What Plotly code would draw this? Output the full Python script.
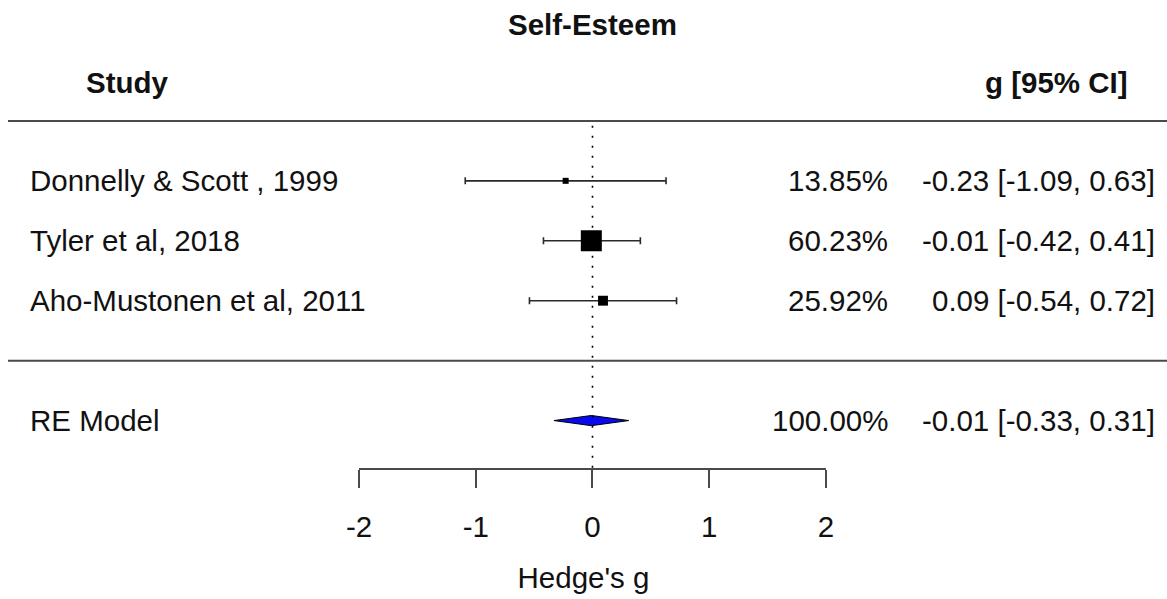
import plotly.graph_objects as go

# ---- data ----
studies = ["Donnelly & Scott , 1999", "Tyler et al, 2018", "Aho-Mustonen et al, 2011"]
estimates = [-0.23, -0.01, 0.09]
ci_lower = [-1.09, -0.42, -0.54]
ci_upper = [0.63, 0.41, 0.72]
weights = [13.85, 60.23, 25.92]
rows = [3, 2, 1]

re_label = "RE Model"
re_est = -0.01
re_lower = -0.33
re_upper = 0.31
re_weight = 100.00
re_row = -1

tick_vals = [-2, -1, 0, 1, 2]
tick_text = ["-2", "-1", "0", "1", "2"]
title_text = "Self-Esteem"
col_study = "Study"
col_est = "g [95% CI]"
x_title = "Hedge's g"

# ---- layout constants ----
W, H = 1167, 599
FONT = "Liberation Sans, Arial, Helvetica, sans-serif"
FS = 29.5
XR = [-5.075, 4.921]
YR = [-1.808, 6.017]
LINE_C = "#4a4a4a"

wmin, wmax = min(weights), max(weights)
sizes = [6 + (w - wmin) / (wmax - wmin) * 15 for w in weights]

fig = go.Figure()

# study estimates with CIs
fig.add_trace(go.Scatter(
    x=estimates, y=rows, mode="markers",
    marker=dict(symbol="square", size=sizes, color="black", opacity=1, line=dict(width=0)),
    error_x=dict(type="data", symmetric=False,
                 array=[u - e for u, e in zip(ci_upper, estimates)],
                 arrayminus=[e - l for e, l in zip(estimates, ci_lower)],
                 thickness=1.6, width=3.5, color="#2a2a2a"),
    hoverinfo="skip", showlegend=False,
))

# summary diamond
dh = 0.085
fig.add_trace(go.Scatter(
    x=[re_lower, re_est, re_upper, re_est, re_lower],
    y=[re_row, re_row + dh, re_row, re_row - dh, re_row],
    mode="lines", fill="toself", fillcolor="#0a0aee",
    line=dict(color="black", width=1), hoverinfo="skip", showlegend=False,
))

shapes = []
# horizontal rules
for yy in [4, 0]:
    shapes.append(dict(type="line", xref="paper", yref="y", x0=8 / W, x1=1, y0=yy, y1=yy,
                       line=dict(color=LINE_C, width=2)))
# reference dotted line at 0
shapes.append(dict(type="line", xref="x", yref="y", x0=0, x1=0, y0=3.92, y1=YR[0],
                   line=dict(color="black", width=1.6, dash="2px,8px")))
# x-axis line from first to last tick
shapes.append(dict(type="line", xref="x", yref="paper", x0=tick_vals[0], x1=tick_vals[-1],
                   y0=0, y1=0, line=dict(color=LINE_C, width=2)))

annotations = []
def txt(x, y, s, anchor, bold=False, xref="paper", yref="y"):
    annotations.append(dict(
        x=x, y=y, xref=xref, yref=yref, text=f"<b>{s}</b>" if bold else s,
        showarrow=False, xanchor=anchor, yanchor="middle",
        font=dict(family=FONT, size=FS, color="#111")))

txt(592.5 / W, 5.6, title_text, "center", bold=True)
txt(84 / W, 4.633, col_study, "left", bold=True)
txt(1130 / W, 4.633, col_est, "right", bold=True)

for s, r, w, e, l, u in zip(studies, rows, weights, estimates, ci_lower, ci_upper):
    txt(28 / W, r, s, "left")
    txt(890 / W, r, f"{w:.2f}%", "right")
    txt(1157 / W, r, f"{e:.2f} [{l:.2f}, {u:.2f}]", "right")

txt(28 / W, re_row, re_label, "left")
txt(890 / W, re_row, f"{re_weight:.2f}%", "right")
txt(1157 / W, re_row, f"{re_est:.2f} [{re_lower:.2f}, {re_upper:.2f}]", "right")

fig.update_layout(
    width=W, height=H,
    margin=dict(l=0, r=0, t=0, b=129.5, pad=0),
    paper_bgcolor="white", plot_bgcolor="white",
    showlegend=False,
    shapes=shapes, annotations=annotations,
    xaxis=dict(range=XR, showgrid=False, zeroline=False, showline=False,
               tickmode="array", tickvals=tick_vals, ticktext=tick_text,
               ticks="outside", ticklen=18, tickwidth=2, tickcolor=LINE_C,
               ticklabelstandoff=14,
               tickfont=dict(family=FONT, size=FS, color="#111"),
               title=dict(text=x_title, font=dict(family=FONT, size=FS, color="#111"), standoff=24),
               fixedrange=True),
    yaxis=dict(range=YR, visible=False, fixedrange=True),
)

fig.write_html("out.html")
